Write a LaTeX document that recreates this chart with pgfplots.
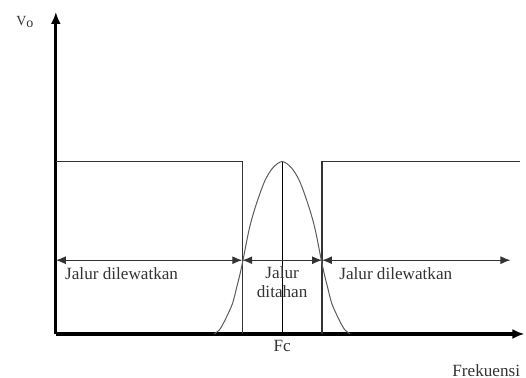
\documentclass[border=0pt]{standalone}
\usepackage{pgfplots}
\pgfplotsset{compat=1.18}
\usetikzlibrary{arrows.meta}
\usepackage{fontspec}
\setmainfont{Liberation Serif}

\definecolor{ink}{HTML}{333333}
\definecolor{thin}{HTML}{8A8A8A}

\tikzset{lbl/.style={text=ink, inner sep=0pt, font=\fontsize{8.6}{10}\selectfont}}

\begin{document}
\begin{tikzpicture}
\begin{axis}[
  x=0.5pt, y=0.5pt,
  xmin=0, xmax=470, ymin=0, ymax=323,
  axis lines=left,
  x axis line style={line width=1.6pt, -{Latex[length=6pt,width=5pt]}},
  y axis line style={line width=1.6pt, -{Latex[length=6pt,width=5pt]}},
  xtick=\empty, ytick=\empty,
  clip=false,
]
% invisible frame so the page keeps the reference proportions
\path (axis cs:-56,-44) rectangle (axis cs:470,335);

% pass bands (left and right)
\addplot[ink, line width=0.7pt] coordinates {(0,173) (187,173) (187,0)};
\addplot[ink, line width=0.7pt] coordinates {(267,0) (267,173) (466,173)};

% centre frequency line
\addplot[thin, line width=0.4pt] coordinates {(227,0) (227,173)};

% stop band response
\addplot[ink!80, line width=0.5pt, smooth, tension=0.5] coordinates {
  (158.7,0) (164,4) (169.4,13.3) (177,30) (181.4,46.7) (184.7,60)
  (187.7,74) (194.3,106.7) (201,130) (209.5,153.3) (217.7,166.7)
  (227,173)
  (236.3,166.7) (244.5,153.3) (253,130) (259.7,106.7) (266.3,74)
  (269.3,60) (272.6,46.7) (277,30) (284.6,13.3) (290,4) (295.3,0)};

% band arrows
\addplot[ink, line width=0.5pt, {Latex[length=5pt,width=4pt]}-{Latex[length=5pt,width=4pt]}]
  coordinates {(0,74) (187,74)};
\addplot[ink, line width=0.5pt, {Latex[length=5pt,width=4pt]}-{Latex[length=5pt,width=4pt]}]
  coordinates {(187,74) (267,74)};
\addplot[ink, line width=0.5pt, {Latex[length=5pt,width=4pt]}-{Latex[length=5pt,width=4pt]}]
  coordinates {(267,74) (456,74)};

\node[lbl, anchor=west] at (axis cs:9,61) {Jalur dilewatkan};
\node[lbl, align=center] at (axis cs:227,52) {Jalur\\ditahan};
\node[lbl, anchor=west] at (axis cs:284,61) {Jalur dilewatkan};
\node[lbl] at (axis cs:227,-12) {Fc};
\node[lbl, anchor=east] at (axis cs:466,-37) {Frekuensi};
\node[lbl, font=\fontsize{7}{8}\selectfont] at (axis cs:-31,313) {V\raisebox{-0.3ex}{o}};
\end{axis}
\end{tikzpicture}
\end{document}
